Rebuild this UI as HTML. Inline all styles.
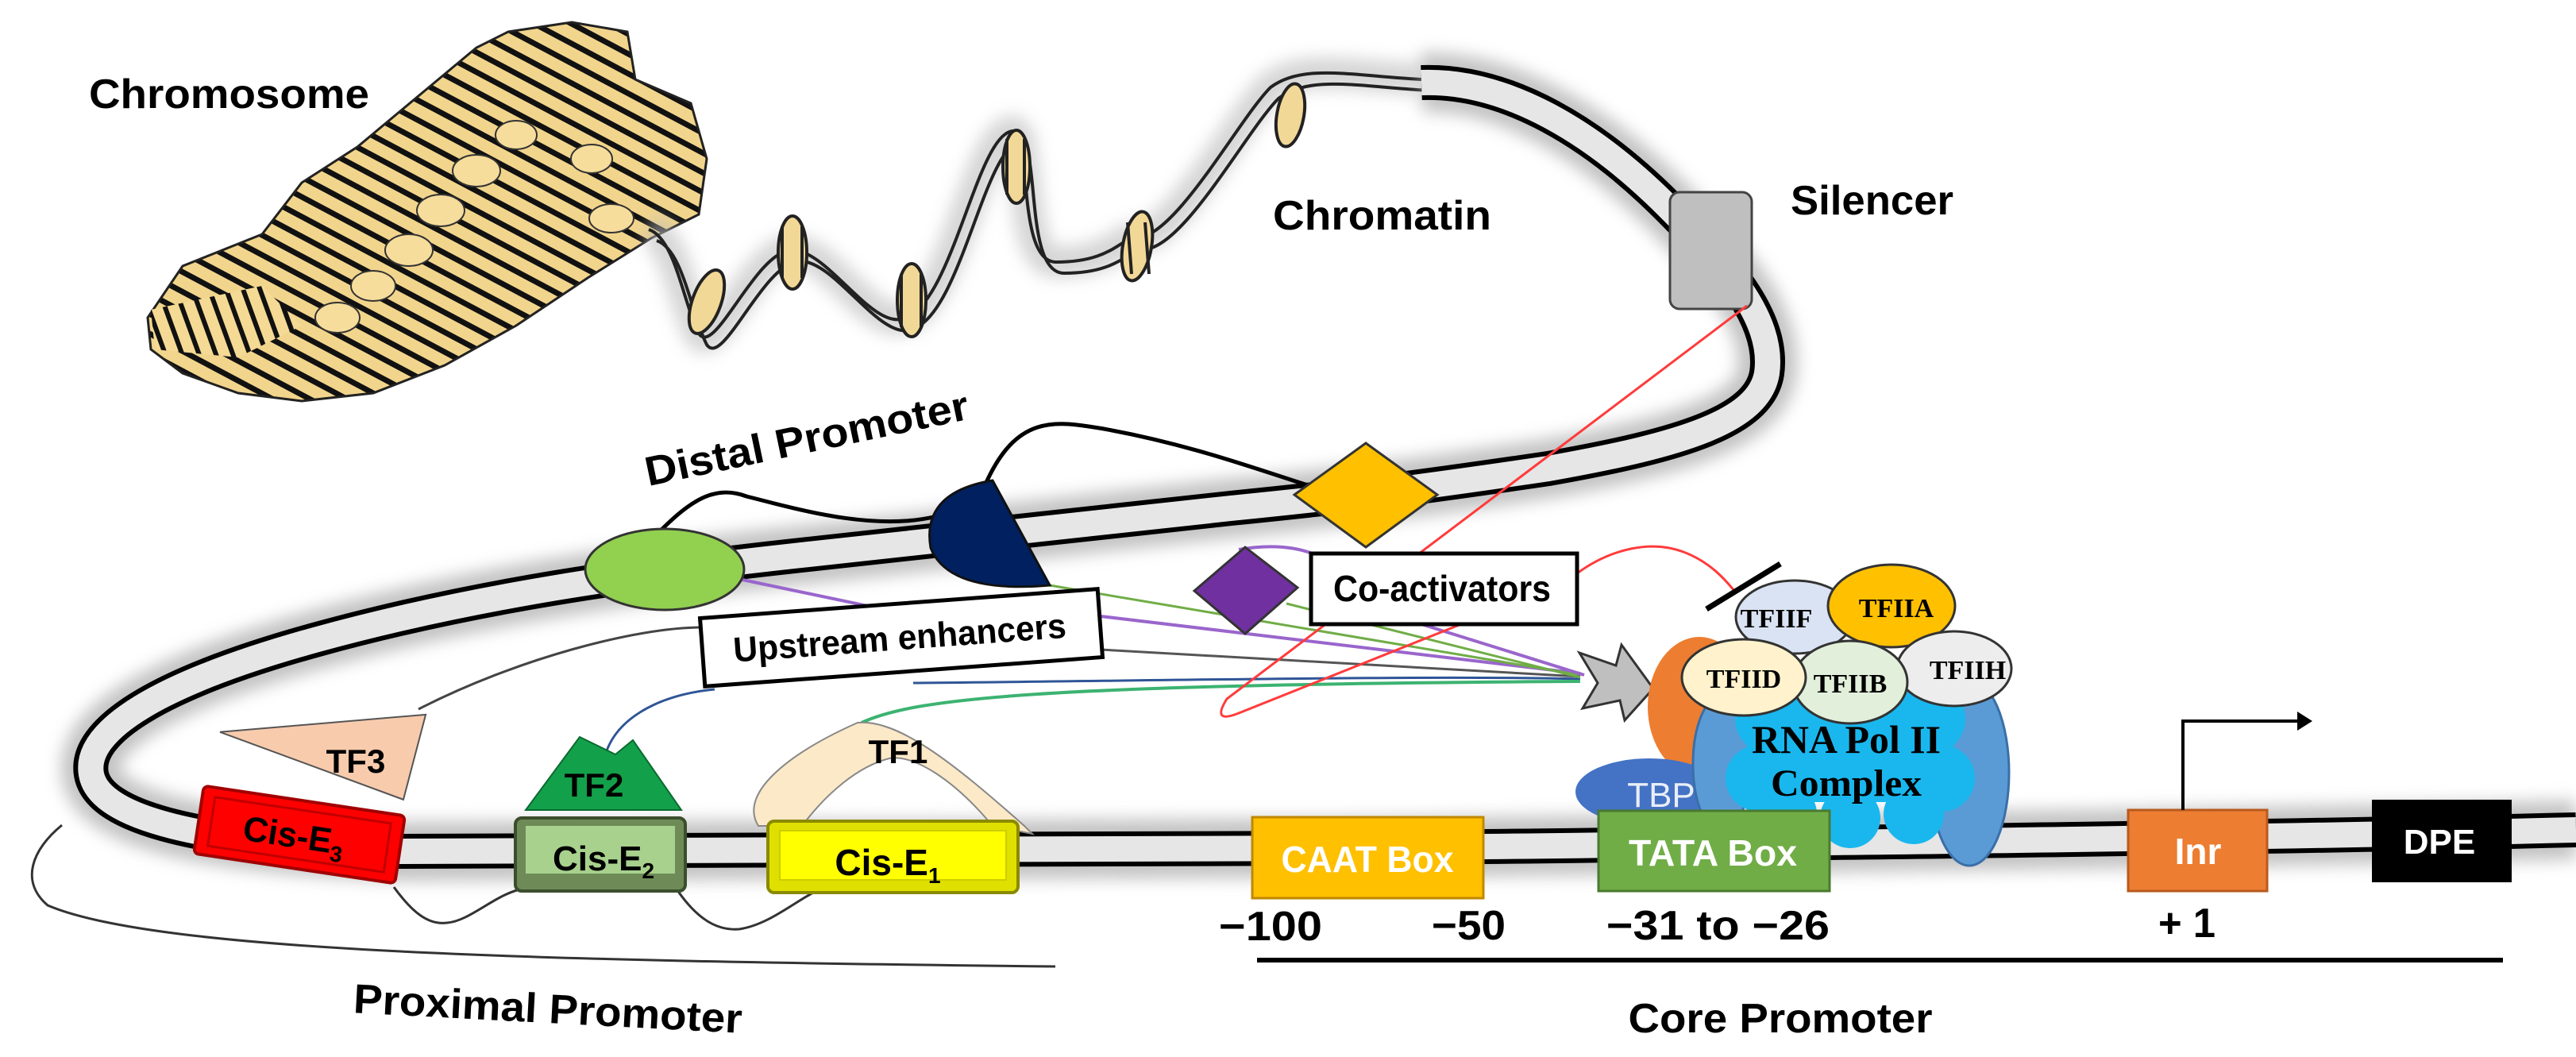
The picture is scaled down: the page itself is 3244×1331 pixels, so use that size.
<!DOCTYPE html>
<html><head><meta charset="utf-8"><style>
html,body{margin:0;padding:0;background:#fff;}
svg{display:block;}
.lb{font-family:"Liberation Sans Narrow","Liberation Sans",sans-serif;font-weight:bold;fill:#000;}
.sf{font-family:"Liberation Serif",serif;font-weight:bold;fill:#000;}
</style></head><body>
<svg width="3244" height="1331" viewBox="0 0 3244 1331" xmlns="http://www.w3.org/2000/svg">
<defs>
<filter id="bl" x="-20%" y="-20%" width="140%" height="140%"><feGaussianBlur stdDeviation="10"/></filter>
<pattern id="stripe" width="22" height="22" patternUnits="userSpaceOnUse" patternTransform="rotate(-62)">
<rect width="22" height="22" fill="#F2D58C"/><rect width="7" height="22" fill="#111"/>
</pattern>
<pattern id="stripe2" width="20" height="20" patternUnits="userSpaceOnUse" patternTransform="rotate(-20)">
<rect width="20" height="20" fill="#F5DA95"/><rect width="6" height="20" fill="#111"/>
</pattern>
</defs>
<rect width="3244" height="1331" fill="#fff"/>

<!-- Chromosome -->
<g>
<path d="M186,400 L230,335 L330,295 L380,230 L450,185 L540,110 L600,60 L640,40 L720,28 L790,40 L800,100 L870,130 L890,200 L880,270 L820,300 L740,350 L650,410 L560,460 L470,495 L380,505 L300,495 L230,470 L190,440 Z" fill="url(#stripe)" stroke="#222" stroke-width="3"/>
<path d="M190,390 L330,360 L380,410 L300,450 L195,440 Z" fill="url(#stripe2)"/>
<g fill="#F7DD9C" stroke="#333" stroke-width="2">
<ellipse cx="600" cy="215" rx="30" ry="20"/><ellipse cx="555" cy="265" rx="30" ry="20"/><ellipse cx="515" cy="315" rx="30" ry="20"/><ellipse cx="470" cy="360" rx="28" ry="19"/><ellipse cx="425" cy="400" rx="28" ry="19"/><ellipse cx="770" cy="275" rx="28" ry="18"/><ellipse cx="745" cy="200" rx="26" ry="18"/><ellipse cx="650" cy="170" rx="26" ry="18"/>
</g>
</g>

<!-- Chromatin fibre -->
<path d="M817,289 C850,300 860,380 880,420 C900,450 950,320 995,315 C1040,310 1100,420 1140,400 C1200,380 1230,170 1275,165 C1300,170 1280,330 1330,330 C1400,330 1410,300 1430,300 C1480,300 1560,150 1600,110 C1640,80 1700,95 1790,100" stroke="#bbb" stroke-width="40" fill="none" filter="url(#bl)" opacity="0.6"/>
<path d="M817,289 C850,300 860,380 880,420 C900,450 950,320 995,315 C1040,310 1100,420 1140,400 C1200,380 1230,170 1275,165 C1300,170 1280,330 1330,330 C1400,330 1410,300 1430,300 C1480,300 1560,150 1600,110 C1640,80 1700,95 1790,100" stroke="#222" stroke-width="4" fill="none"/>
<path d="M817,289 C850,300 860,380 880,420 C900,450 950,320 995,315 C1040,310 1100,420 1140,400 C1200,380 1230,170 1275,165 C1300,170 1280,330 1330,330 C1400,330 1410,300 1430,300 C1480,300 1560,150 1600,110 C1640,80 1700,95 1790,100" stroke="#222" stroke-width="4" fill="none" transform="translate(10,14)"/>
<g fill="#F2D896" stroke="#222" stroke-width="4">
<ellipse cx="890" cy="380" rx="18" ry="42" transform="rotate(20 890 380)"/>
<ellipse cx="998" cy="318" rx="18" ry="46"/>
<ellipse cx="1148" cy="378" rx="18" ry="46"/>
<ellipse cx="1280" cy="210" rx="17" ry="46"/>
<ellipse cx="1432" cy="310" rx="18" ry="44" transform="rotate(10 1432 310)"/>
<ellipse cx="1625" cy="145" rx="17" ry="40" transform="rotate(10 1625 145)"/>
</g>
<g stroke="#222" stroke-width="4"><line x1="985" y1="285" x2="985" y2="350"/><line x1="1010" y1="285" x2="1010" y2="350"/><line x1="1135" y1="345" x2="1135" y2="412"/><line x1="1160" y1="345" x2="1160" y2="412"/><line x1="1268" y1="175" x2="1268" y2="245"/><line x1="1290" y1="175" x2="1290" y2="245"/><line x1="1420" y1="280" x2="1425" y2="345"/><line x1="1442" y1="280" x2="1447" y2="345"/></g>

<!-- Main DNA -->
<path d="M1790,104 C1900,100 2010,170 2100,260 C2170,330 2235,400 2225,470 C2215,530 2120,560 1950,590 C1800,612 1720,623 1550,640 C1400,655 1250,672 1000,700 C800,722 600,750 400,805 C200,860 105,920 115,975 C125,1030 250,1062 500,1072 C900,1072 1300,1070 1700,1068 C2200,1062 2700,1058 3244,1045" stroke="#aaa" stroke-width="75" fill="none" filter="url(#bl)" opacity="0.7"/>
<path d="M1790,104 C1900,100 2010,170 2100,260 C2170,330 2235,400 2225,470 C2215,530 2120,560 1950,590 C1800,612 1720,623 1550,640 C1400,655 1250,672 1000,700 C800,722 600,750 400,805 C200,860 105,920 115,975 C125,1030 250,1062 500,1072 C900,1072 1300,1070 1700,1068 C2200,1062 2700,1058 3244,1045" stroke="#000" stroke-width="44" fill="none"/>
<path d="M1790,104 C1900,100 2010,170 2100,260 C2170,330 2235,400 2225,470 C2215,530 2120,560 1950,590 C1800,612 1720,623 1550,640 C1400,655 1250,672 1000,700 C800,722 600,750 400,805 C200,860 105,920 115,975 C125,1030 250,1062 500,1072 C900,1072 1300,1070 1700,1068 C2200,1062 2700,1058 3244,1045" stroke="#e6e6e6" stroke-width="32" fill="none"/>

<!-- Silencer -->
<rect x="2103" y="242" width="103" height="147" rx="12" fill="#BFBFBF" stroke="#444" stroke-width="3"/>

<!-- loops above strand -->
<path d="M830,670 C870,630 900,610 940,625 C1000,640 1100,670 1180,650" stroke="#000" stroke-width="5" fill="none"/>
<path d="M1240,612 C1280,520 1330,530 1390,540 C1500,560 1580,590 1650,612" stroke="#000" stroke-width="5" fill="none"/>

<!-- Proximal loops below -->
<path d="M496,1117 C520,1150 540,1165 563,1162 C590,1160 620,1130 651,1121" stroke="#333" stroke-width="3" fill="none"/>
<path d="M853,1121 C880,1160 905,1172 931,1170 C965,1165 995,1140 1024,1124" stroke="#333" stroke-width="3" fill="none"/>
<path d="M78,1039 C40,1070 25,1110 60,1140 C200,1200 700,1210 1329,1217" stroke="#333" stroke-width="3" fill="none"/>

<!-- connecting lines -->
<path d="M527,893 C650,830 800,790 884,790" stroke="#444" stroke-width="3" fill="none"/>
<path d="M935,730 L1150,775" stroke="#9966CC" stroke-width="4" fill="none"/>
<path d="M1386,776 L1990,848" stroke="#9966CC" stroke-width="4" fill="none"/>
<path d="M1310,735 L1990,850" stroke="#70AD47" stroke-width="3" fill="none"/>
<path d="M1386,818 L1990,852" stroke="#555" stroke-width="3" fill="none"/>
<path d="M760,960 C770,905 830,875 900,868" stroke="#2F5597" stroke-width="3" fill="none"/>
<path d="M1150,860 C1400,858 1800,850 1990,855" stroke="#2F5597" stroke-width="3" fill="none"/>
<path d="M1085,910 C1150,880 1300,862 1990,858" stroke="#3CB371" stroke-width="4" fill="none"/>
<path d="M1560,692 Q1620,682 1660,700" stroke="#9966CC" stroke-width="4" fill="none"/>
<path d="M1790,786 L1995,850" stroke="#9966CC" stroke-width="4" fill="none"/>
<path d="M1620,760 L1990,853" stroke="#70AD47" stroke-width="3" fill="none"/>
<!-- red -->
<path d="M2200,385 L1545,880 Q1525,912 1560,898 L1840,786" stroke="#FF3B3B" stroke-width="3" fill="none"/>
<path d="M1986,722 C2030,690 2080,680 2120,695 C2160,710 2180,740 2185,745" stroke="#FF3B3B" stroke-width="3" fill="none"/>

<!-- shapes on upper strand -->
<ellipse cx="837" cy="717" rx="100" ry="51" fill="#92D050" stroke="#333" stroke-width="3"/>
<path d="M1250,605 Q1160,620 1172,690 Q1195,748 1322,737 Z" fill="#002060" stroke="#111" stroke-width="3"/>
<polygon points="1720,558 1810,623 1720,689 1630,623" fill="#FFC000" stroke="#333" stroke-width="3"/>
<polygon points="1568,689 1634,740 1568,798 1504,744" fill="#7030A0" stroke="#333" stroke-width="3"/>

<!-- Upstream enhancers box -->
<g transform="rotate(-4.2 1135 803)">
<rect x="884" y="760" width="502" height="86" fill="#fff" stroke="#000" stroke-width="5"/>
<text class="lb" x="1133" y="818" font-size="44" text-anchor="middle" textLength="420" lengthAdjust="spacingAndGlyphs" font-weight="normal">Upstream enhancers</text>
</g>
<!-- Co-activators -->
<rect x="1651" y="697" width="335" height="89" fill="#fff" stroke="#000" stroke-width="5"/>
<text class="lb" x="1816" y="757" font-size="46" text-anchor="middle" textLength="274" lengthAdjust="spacingAndGlyphs" font-weight="normal">Co-activators</text>

<!-- gray arrow -->
<polygon points="1989,822 2035,838 2042,812 2082,867 2046,907 2040,882 1993,892 2012,860" fill="#BFBFBF" stroke="#333" stroke-width="3"/>
<line x1="2149" y1="767" x2="2242" y2="710" stroke="#000" stroke-width="7"/>

<!-- RNA Pol II complex -->
<ellipse cx="2140" cy="890" rx="65" ry="88" fill="#ED7D31"/>
<ellipse cx="2077" cy="997" rx="93" ry="42" fill="#4472C4"/>
<text x="2092" y="1016" font-family="Liberation Sans,sans-serif" font-size="44" fill="#E8EEF8" text-anchor="middle">TBP</text>
<ellipse cx="2168" cy="962" rx="36" ry="86" fill="#5B9BD5" stroke="#3A6FA8" stroke-width="3"/>
<ellipse cx="2480" cy="973" rx="50" ry="117" fill="#5B9BD5" stroke="#3A6FA8" stroke-width="3"/>
<g fill="#19B7EE">
<circle cx="2230" cy="905" r="45"/><circle cx="2330" cy="895" r="55"/><circle cx="2430" cy="905" r="45"/>
<circle cx="2215" cy="980" r="42"/><circle cx="2445" cy="980" r="42"/>
<circle cx="2250" cy="1025" r="38"/><circle cx="2330" cy="1030" r="38"/><circle cx="2410" cy="1025" r="38"/>
<rect x="2200" y="890" width="260" height="120"/>
</g>
<text class="sf" x="2325" y="948" font-size="50" text-anchor="middle" textLength="238" lengthAdjust="spacingAndGlyphs">RNA Pol II</text>
<text class="sf" x="2325" y="1002" font-size="48" text-anchor="middle" textLength="190" lengthAdjust="spacingAndGlyphs">Complex</text>

<ellipse cx="2260" cy="777" rx="74" ry="46" fill="#DAE3F3" stroke="#333" stroke-width="3"/>
<ellipse cx="2382" cy="763" rx="80" ry="52" fill="#FFC000" stroke="#333" stroke-width="3"/>
<ellipse cx="2461" cy="842" rx="72" ry="47" fill="#EDEDED" stroke="#333" stroke-width="3"/>
<ellipse cx="2330" cy="859" rx="72" ry="52" fill="#E2EFDA" stroke="#333" stroke-width="3"/>
<ellipse cx="2196" cy="853" rx="78" ry="48" fill="#FFF2CC" stroke="#333" stroke-width="3"/>
<g font-size="34" text-anchor="middle">
<text x="2237" y="790" class="sf" font-weight="normal">TFIIF</text>
<text x="2388" y="777" class="sf" font-weight="normal">TFIIA</text>
<text x="2478" y="855" class="sf" font-weight="normal">TFIIH</text>
<text x="2330" y="872" class="sf" font-weight="normal">TFIIB</text>
<text x="2196" y="866" class="sf" font-weight="normal">TFIID</text>
</g>

<!-- Proximal elements -->
<g transform="rotate(8.5 377 1051)">
<polygon points="512,880 259,940 500,990" fill="#F8CBAD" stroke="#555" stroke-width="2" transform="translate(0,-2)"/>
<rect x="249" y="1008" width="256" height="86" rx="6" fill="#FF0000" stroke="#A00000" stroke-width="4"/>
<rect x="265" y="1020" width="224" height="62" fill="none" stroke="#C00000" stroke-width="3"/>
<text class="lb" x="370" y="1068" font-size="44" text-anchor="middle">Cis-E<tspan font-size="28" dy="10">3</tspan></text>
</g>
<text class="lb" x="448" y="973" font-size="42" text-anchor="middle">TF3</text>

<polygon points="662,1020 858,1020 797,932 775,950 730,928" fill="#13A04A" stroke="#0B6B30" stroke-width="2"/>
<text class="lb" x="748" y="1003" font-size="42" text-anchor="middle">TF2</text>
<rect x="649" y="1030" width="214" height="92" rx="8" fill="#6E8B57" stroke="#3B4E2C" stroke-width="4"/>
<rect x="662" y="1040" width="188" height="60" fill="#A9D18E"/>
<text class="lb" x="760" y="1096" font-size="44" text-anchor="middle">Cis-E<tspan font-size="28" dy="10">2</tspan></text>

<path d="M955,1040 C930,1000 990,950 1080,910 C1130,905 1200,960 1290,1040 L1300,1050 L1250,1040 C1200,980 1150,950 1120,955 C1080,965 1040,1000 1010,1040 Z" fill="#FCE9C8" stroke="#888" stroke-width="2"/>
<text class="lb" x="1131" y="961" font-size="42" text-anchor="middle">TF1</text>
<rect x="967" y="1034" width="315" height="90" rx="8" fill="#E0E000" stroke="#8A8A00" stroke-width="4"/>
<rect x="982" y="1046" width="285" height="62" fill="#FFFF00" stroke="#CCCC00" stroke-width="2"/>
<text class="lb" x="1118" y="1102" font-size="46" text-anchor="middle">Cis-E<tspan font-size="28" dy="10">1</tspan></text>

<!-- Core promoter boxes -->
<rect x="1577" y="1029" width="291" height="102" fill="#FFC000" stroke="#C08800" stroke-width="3"/>
<text x="1722" y="1098" font-family="Liberation Sans Narrow,Liberation Sans,sans-serif" font-weight="bold" font-size="46" fill="#fff" text-anchor="middle" textLength="217" lengthAdjust="spacingAndGlyphs">CAAT Box</text>
<rect x="2013" y="1021" width="291" height="101" fill="#70AD47" stroke="#4A7A2E" stroke-width="3"/>
<text x="2157" y="1090" font-family="Liberation Sans Narrow,Liberation Sans,sans-serif" font-weight="bold" font-size="46" fill="#fff" text-anchor="middle" textLength="212" lengthAdjust="spacingAndGlyphs">TATA Box</text>
<rect x="2680" y="1020" width="175" height="102" fill="#ED7D31" stroke="#B85A1E" stroke-width="3"/>
<text x="2768" y="1088" font-family="Liberation Sans Narrow,Liberation Sans,sans-serif" font-weight="bold" font-size="46" fill="#fff" text-anchor="middle">Inr</text>
<rect x="2987" y="1007" width="176" height="104" fill="#000"/>
<text x="3072" y="1075" font-family="Liberation Sans Narrow,Liberation Sans,sans-serif" font-weight="bold" font-size="44" fill="#fff" text-anchor="middle">DPE</text>
<path d="M2749,1020 L2749,908 L2895,908" stroke="#000" stroke-width="4" fill="none"/>
<polygon points="2893,896 2912,908 2893,920" fill="#000"/>

<!-- Position labels -->
<g class="lb" font-size="52">
<text x="1535" y="1184" textLength="130" lengthAdjust="spacingAndGlyphs">−100</text>
<text x="1803" y="1183" textLength="93" lengthAdjust="spacingAndGlyphs">−50</text>
<text x="2023" y="1183" textLength="281" lengthAdjust="spacingAndGlyphs">−31  to −26</text>
<text x="2718" y="1180" textLength="72" lengthAdjust="spacingAndGlyphs">+ 1</text>
</g>
<line x1="1583" y1="1209" x2="3152" y2="1209" stroke="#000" stroke-width="6"/>

<!-- Labels -->
<text class="lb" x="112" y="136" font-size="52" textLength="353" lengthAdjust="spacingAndGlyphs">Chromosome</text>
<text class="lb" x="1603" y="289" font-size="52" textLength="275" lengthAdjust="spacingAndGlyphs">Chromatin</text>
<text class="lb" x="2255" y="270" font-size="52" textLength="205" lengthAdjust="spacingAndGlyphs">Silencer</text>
<text class="lb" x="1016" y="570" font-size="52" text-anchor="middle" textLength="415" lengthAdjust="spacingAndGlyphs" transform="rotate(-11.8 1016 553)">Distal Promoter</text>
<text class="lb" x="690" y="1288" font-size="52" text-anchor="middle" textLength="490" lengthAdjust="spacingAndGlyphs" transform="rotate(3 690 1270)">Proximal Promoter</text>
<text class="lb" x="2242" y="1300" font-size="52" text-anchor="middle" textLength="383" lengthAdjust="spacingAndGlyphs">Core Promoter</text>
</svg>
</body></html>
